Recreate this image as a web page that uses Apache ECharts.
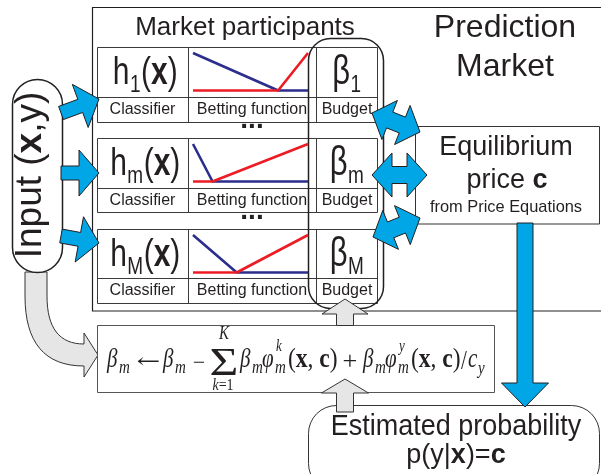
<!DOCTYPE html>
<html><head><meta charset="utf-8">
<script src="https://cdn.jsdelivr.net/npm/echarts@6/dist/echarts.min.js"></script>
<style>html,body{margin:0;padding:0;background:#fff}#c{width:601px;height:474px}</style>
</head><body><div id="c"></div>
<script>
// ---------- data ----------
const rowSubs = ['1', 'm', 'M'];
const cellLabels = ['Classifier', 'Betting function', 'Budget'];
const blueLines = [
  [[0, 1], [0.74, 0], [1, 0]],
  [[0, 1], [0.17, 0], [1, 0]],
  [[0, 1], [0.38, 0], [1, 0]]
];
const redLines = [
  [[0, 0], [0.74, 0], [1, 1]],
  [[0, 0], [0.17, 0], [1, 1]],
  [[0, 0], [0.38, 0], [1, 1]]
];

// ---------- layout ----------
const SANS = 'Liberation Sans, Arial, sans-serif';
const SERIF = 'Liberation Serif, Times New Roman, serif';
const INK = '#231f20';
const BLUE = '#00a6e6';
const GRAY = '#e6e6e6';
const rowTop = [47, 138, 229], rowMid = [97, 188, 278], rowBot = [122, 212, 303];

const G = [];
function R(x, y, w, h, o = {}) {
  G.push({type: 'rect', silent: true, shape: {x, y, width: w, height: h, r: o.r || 0},
    style: {fill: o.fill || 'none', stroke: o.stroke || INK, lineWidth: o.lw || 1}});
}
function L(x1, y1, x2, y2, o = {}) {
  G.push({type: 'line', silent: true, shape: {x1, y1, x2, y2},
    style: {stroke: o.stroke || INK, lineWidth: o.lw || 1}});
}
function T(x, y, text, o = {}) {
  G.push({type: 'text', silent: true, x, y, rotation: o.rot || 0, scaleX: o.sx || 1, scaleY: o.sy || 1,
    style: {text, fill: o.fill || INK, fontSize: o.size || 16, fontFamily: o.family || SANS,
      fontWeight: o.weight || 'normal', fontStyle: o.fstyle || 'normal',
      align: o.align || 'center', verticalAlign: 'middle', rich: o.rich}});
}
// text placed by baseline
function TB(x, base, text, o = {}) {
  const size = o.size || 16, sy = o.sy || 1;
  const k = (o.family === SERIF) ? 0.3375 : 0.3465;
  T(x, base - k * size * sy, text, Object.assign({align: 'left'}, o));
}
function P(pts, o = {}) {
  G.push({type: 'polygon', silent: true, shape: {points: pts},
    style: {fill: o.fill || BLUE, stroke: o.stroke || INK, lineWidth: o.lw || 1, lineJoin: 'miter'}});
}
function arrowPts(x1, y1, x2, y2, sw, hw, hl) {
  const dx = x2 - x1, dy = y2 - y1, Ln = Math.hypot(dx, dy), ux = dx / Ln, uy = dy / Ln, nx = -uy, ny = ux;
  const bx = x2 - ux * hl, by = y2 - uy * hl;
  return [[x1 + nx * sw / 2, y1 + ny * sw / 2], [bx + nx * sw / 2, by + ny * sw / 2], [bx + nx * hw / 2, by + ny * hw / 2],
    [x2, y2], [bx - nx * hw / 2, by - ny * hw / 2], [bx - nx * sw / 2, by - ny * sw / 2], [x1 - nx * sw / 2, y1 - ny * sw / 2]];
}
function dblArrowPts(x1, y1, x2, y2, sw, hw, hl) {
  const dx = x2 - x1, dy = y2 - y1, Ln = Math.hypot(dx, dy), ux = dx / Ln, uy = dy / Ln, nx = -uy, ny = ux;
  const ax = x1 + ux * hl, ay = y1 + uy * hl, bx = x2 - ux * hl, by = y2 - uy * hl;
  return [[x1, y1], [ax + nx * hw / 2, ay + ny * hw / 2], [ax + nx * sw / 2, ay + ny * sw / 2],
    [bx + nx * sw / 2, by + ny * sw / 2], [bx + nx * hw / 2, by + ny * hw / 2], [x2, y2],
    [bx - nx * hw / 2, by - ny * hw / 2], [bx - nx * sw / 2, by - ny * sw / 2],
    [ax - nx * sw / 2, ay - ny * sw / 2], [ax - nx * hw / 2, ay - ny * hw / 2]];
}
function quad(p0, c, p1, n) {
  const out = [];
  for (let i = 0; i <= n; i++) {
    const t = i / n, a = (1 - t) * (1 - t), b = 2 * (1 - t) * t, d = t * t;
    out.push([a * p0[0] + b * c[0] + d * p1[0], a * p0[1] + b * c[1] + d * p1[1]]);
  }
  return out;
}

// Prediction market frame
R(92.5, 7.5, 540, 303.5, {lw: 1.2});
T(245, 28, 'Market participants', {size: 26});
T(505, 28, 'Prediction', {size: 32});
T(505, 67, 'Market', {size: 32});

// participant tables
const richP = {
  h: {fontSize: 30, fontFamily: SANS, fill: INK},
  b: {fontSize: 30, fontFamily: SANS, fontWeight: 'bold', fill: INK}
};
const colCenters = [142.5, 252, 347];
const subW = {'1': 0.556, 'm': 0.833, 'M': 0.833};
for (let i = 0; i < 3; i++) {
  const t = rowTop[i], m = rowMid[i], b = rowBot[i];
  R(97.5, t + 0.5, 280, b - t, {fill: '#fff', stroke: '#3a3a3a'});
  L(97.5, m + 0.5, 377.5, m + 0.5, {stroke: '#3a3a3a'});
  L(188.5, t + 0.5, 188.5, b + 0.5, {stroke: '#3a3a3a'});
  L(316.5, t + 0.5, 316.5, b + 0.5, {stroke: '#3a3a3a'});
  // classifier label h_i(x)
  const sw = subW[rowSubs[i]] * 19;
  const tot = 16.7 + 0.5 + sw + 1 + 36.7;
  const lx = 145.5 - tot / 2;
  TB(lx, t + 40, 'h', {size: 30, sy: 1.3});
  TB(lx + 17.2, t + 47, rowSubs[i], {size: 19, sy: 1.25});
  TB(lx + 17.7 + sw, t + 40, '{h|(}{b|x}{h|)}', {size: 30, sy: 1.3, rich: richP});
  // budget label beta_i
  const btot = 17.8 + sw;
  const bx = 346.5 - btot / 2;
  TB(bx, t + 40, 'β', {size: 31, sy: 1.3});
  TB(bx + 18.3, t + 47, rowSubs[i], {size: 19, sy: 1.25});
  for (let c = 0; c < 3; c++) T(colCenters[c], (m + b) / 2 + 0.5, cellLabels[c], {size: 16});
}
T(252, 120.5, '...', {size: 28, weight: 'bold'});
T(252, 211, '...', {size: 28, weight: 'bold'});

// budget highlight
R(308.5, 38.5, 75, 270, {r: 22, lw: 1.5});

// equilibrium box
R(415.5, 126.5, 184, 97.5, {fill: '#fff', stroke: '#333'});
T(506, 148, 'Equilibrium', {size: 27});
T(507, 181, '{a|price }{b|c}', {rich: {
  a: {fontSize: 27, fontFamily: SANS, fill: INK},
  b: {fontSize: 27, fontFamily: SANS, fontWeight: 'bold', fill: INK}}});
T(506, 207, 'from Price Equations', {size: 16.4});

// gray curved arrow from input to update rule
const outer = [[25, 272]].concat(quad([25, 296], [25, 366], [84, 366], 16));
const inner = [[47, 272]].concat(quad([47, 296], [47, 344], [84, 344], 16));
P(outer.concat([[84, 377], [98, 355], [84, 333]]).concat(inner.slice().reverse()), {fill: GRAY, stroke: '#333'});

// input pill
R(12.5, 79.5, 50, 193, {r: 25, lw: 1.5, fill: '#fff'});
T(31, 175, '{a|Input (}{b|x}{a|,y)}', {rot: Math.PI / 2, rich: {
  a: {fontSize: 37, fontFamily: SANS, fill: INK},
  b: {fontSize: 37, fontFamily: SANS, fontWeight: 'bold', fill: INK}}});

// input arrows
P(arrowPts(61, 113, 99, 99, 14, 46, 20));
P(arrowPts(61, 173, 99, 173, 14, 46, 20));
P(arrowPts(61, 236, 99, 243, 14, 46, 20));

// budget <-> equilibrium arrows
P(dblArrowPts(372, 113, 420, 132, 17, 42, 19));
P(dblArrowPts(372, 175, 427, 175, 17, 44, 20));
P(dblArrowPts(373, 237, 420, 218, 17, 42, 19));

// update-rule box
R(97.5, 325.5, 397, 67, {fill: '#fff', stroke: '#555'});
const FS = 21, SY = 1.25, base = 369, subB = 374, supB = 352;
function Mi(x, b, t, size, o = {}) {
  TB(x, b, t, Object.assign({size: size, sy: SY, family: SERIF, fstyle: 'italic'}, o));
}
const richXC = {
  u: {fontSize: FS, fontFamily: SERIF, fill: INK},
  b: {fontSize: FS, fontFamily: SERIF, fontWeight: 'bold', fill: INK}
};
Mi(107, base, 'β', FS); Mi(119, subB, 'm', 15);
T(148.5, 363, '←', {size: 21, family: 'DejaVu Serif', sx: 1.35});
Mi(163, base, 'β', FS); Mi(175, subB, 'm', 15);
T(199, 363, '−', {size: FS, family: SERIF, sx: 1.05});
TB(224, 378, 'Σ', {size: 31, family: SERIF, sx: 1.6, sy: 1.28, align: 'center'});
TB(224, 340, 'K', {size: 15, sy: 1.2, family: SERIF, fstyle: 'italic', align: 'center'});
TB(223, 391, '{i|k}{u|=1}', {size: 14, sy: 1.2, family: SERIF, align: 'center', rich: {
  i: {fontSize: 14, fontFamily: SERIF, fontStyle: 'italic', fill: INK},
  u: {fontSize: 14, fontFamily: SERIF, fill: INK}}});
Mi(240, base, 'β', FS); Mi(252, subB, 'm', 15);
Mi(262, base, 'φ', FS); Mi(276, supB, 'k', 13); Mi(275, subB, 'm', 15);
TB(288, base, '{u|(}{b|x}{u|, }{b|c}{u|)}', {size: FS, sy: SY, sx: 1.12, family: SERIF, rich: richXC});
T(350, 363, '+', {size: FS, family: SERIF, sx: 1.25, sy: 1.15});
Mi(363, base, 'β', FS); Mi(375, subB, 'm', 15);
Mi(385, base, 'φ', FS); Mi(399, supB, 'y', 13); Mi(398, subB, 'm', 15);
TB(411, base, '{u|(}{b|x}{u|, }{b|c}{u|)}', {size: FS, sy: SY, sx: 1.12, family: SERIF, rich: richXC});
TB(464, base + 2, '/', {size: FS, sy: SY, family: SERIF, align: 'center'});
Mi(468, base, 'c', FS); Mi(478, subB + 1, 'y', 15);

// estimated probability box
R(308.5, 405.5, 291, 86, {r: 28, fill: '#fff', stroke: '#333'});
TB(456, 437, 'Estimated probability', {size: 27, sy: 1.12, align: 'center'});
TB(456, 465, '{a|p(y|}{b|x}{a|)=}{b|c}', {size: 27, align: 'center', rich: {
  a: {fontSize: 27, fontFamily: SANS, fill: INK},
  b: {fontSize: 27, fontFamily: SANS, fontWeight: 'bold', fill: INK}}});

// gray up arrows
P(arrowPts(345, 325.5, 345, 299, 17, 46, 15), {fill: GRAY, stroke: '#333'});
P(arrowPts(345, 412, 345, 379, 17, 47, 14), {fill: GRAY, stroke: '#333'});

// blue down arrow
P(arrowPts(525, 223, 525, 407, 16, 47, 24));

// ---------- betting-function mini charts ----------
const grids = [], xAxes = [], yAxes = [], series = [];
for (let i = 0; i < 3; i++) {
  grids.push({left: 193, top: rowTop[i] + 6, width: 115, height: 37.5});
  xAxes.push({type: 'value', gridIndex: i, min: 0, max: 1, show: false});
  yAxes.push({type: 'value', gridIndex: i, min: 0, max: 1, show: false});
  series.push({type: 'line', xAxisIndex: i, yAxisIndex: i, data: blueLines[i], symbol: 'none',
    lineStyle: {color: '#2b2e8c', width: 2.6}, silent: true, clip: false, z: 5});
  series.push({type: 'line', xAxisIndex: i, yAxisIndex: i, data: redLines[i], symbol: 'none',
    lineStyle: {color: '#ed1c24', width: 2.6}, silent: true, clip: false, z: 6});
}

const chart = echarts.init(document.getElementById('c'), null, {renderer: 'canvas'});
chart.setOption({
  animation: false,
  backgroundColor: '#fff',
  grid: grids, xAxis: xAxes, yAxis: yAxes, series: series,
  graphic: {elements: G}
});
</script>
</body></html>
